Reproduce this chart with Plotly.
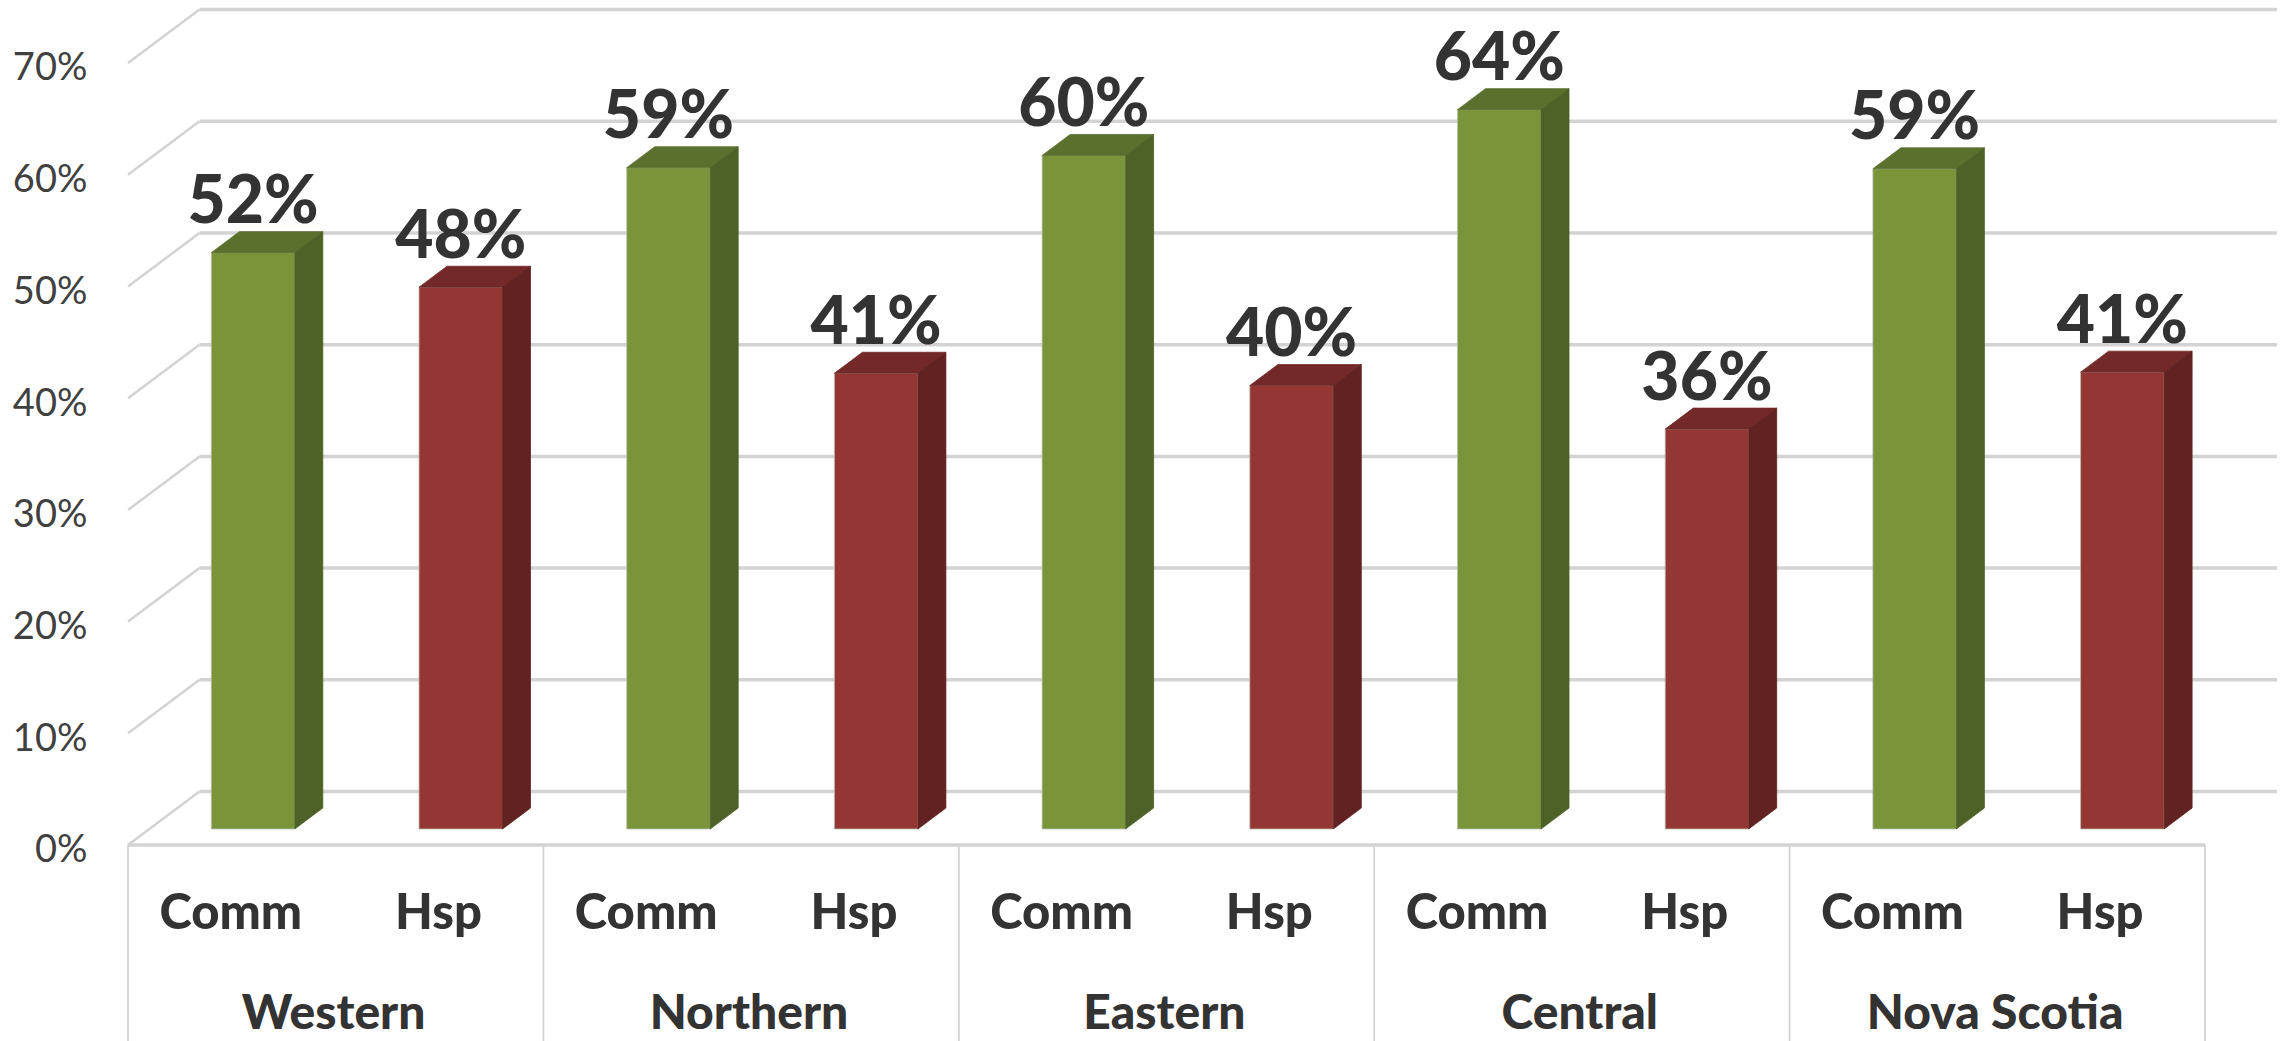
import plotly.graph_objects as go

regions = ["Western", "Northern", "Eastern", "Central", "Nova Scotia"]
kinds = ["Comm", "Hsp"]
comm_values = [51.6, 59.2, 60.3, 64.4, 59.1]
hsp_values = [48.5, 40.8, 39.7, 35.8, 40.9]
comm_labels = ["52%", "59%", "60%", "64%", "59%"]
hsp_labels = ["48%", "41%", "40%", "36%", "41%"]
grid_levels = [0, 10, 20, 30, 40, 50, 60, 70]
grid_labels = ["0%", "10%", "20%", "30%", "40%", "50%", "60%", "70%"]

W, H = 2292, 1041
SLOT_PX = 207.7
Y_PX = 11.17
X0_PX = 231.85
Y0_PX = 845
xrange_ = [-X0_PX / SLOT_PX, (W - X0_PX) / SLOT_PX]
yrange_ = [-(H - Y0_PX) / Y_PX, Y0_PX / Y_PX]


def dx(px):
    return px / SLOT_PX


def dy(px):
    return px / Y_PX


BASE = dy(16)
BAR_W = dx(83.5)
BAR_SHIFT = dx(21.2)
DEPTH_X, DEPTH_Y = dx(28), dy(21)
WALL_X, WALL_Y = dx(71.5), dy(53.5)
LEFT = -0.5
RIGHT_FRONT = 9.5
RIGHT_BACK = dx(2277 - X0_PX)
LABEL_LIFT = dy(46)
FONT = "Lato, Noto Sans, sans-serif"
INK = "#333333"
GREEN = ("#7A9539", "#5C702E", "#4E6126")
RED = ("#943634", "#722928", "#612221")
GRID = "#d3d3d3"

xs_comm = [2 * i + BAR_SHIFT for i in range(5)]
xs_hsp = [2 * i + 1 + BAR_SHIFT for i in range(5)]

fig = go.Figure()


def add_series(xs, values, labels, colors):
    front, top, side = colors
    fig.add_trace(go.Bar(
        x=xs, y=values, base=BASE, width=BAR_W,
        marker=dict(color=front, line=dict(color="#b9bfae", width=0.8)),
        showlegend=False, hoverinfo="skip",
    ))
    for x, v in zip(xs, values):
        t = v + BASE
        l, r = x - BAR_W / 2, x + BAR_W / 2
        fig.add_trace(go.Scatter(
            x=[l, r, r + DEPTH_X, l + DEPTH_X, l], y=[t, t, t + DEPTH_Y, t + DEPTH_Y, t],
            fill="toself", fillcolor=top, mode="lines",
            line=dict(color=top, width=0.8), showlegend=False, hoverinfo="skip",
        ))
        fig.add_trace(go.Scatter(
            x=[r, r + DEPTH_X, r + DEPTH_X, r, r],
            y=[BASE, BASE + DEPTH_Y, t + DEPTH_Y, t, BASE],
            fill="toself", fillcolor=side, mode="lines",
            line=dict(color=side, width=0.8), showlegend=False, hoverinfo="skip",
        ))
    fig.add_trace(go.Scatter(
        x=xs, y=[v + BASE + LABEL_LIFT for v in values], text=labels, mode="text",
        textposition="middle center",
        textfont=dict(family=FONT, size=66, color=INK, weight=900),
        showlegend=False, hoverinfo="skip",
    ))


add_series(xs_comm, comm_values, comm_labels, GREEN)
add_series(xs_hsp, hsp_values, hsp_labels, RED)

# category labels
fig.add_trace(go.Scatter(
    x=[i - 0.005 for i in range(10)], y=[dy(-72)] * 10, text=kinds * 5, mode="text",
    textposition="middle center",
    textfont=dict(family=FONT, size=49, color=INK, weight=900),
    showlegend=False, hoverinfo="skip",
))
fig.add_trace(go.Scatter(
    x=[2 * i + 0.49 for i in range(5)], y=[dy(-172)] * 5, text=regions, mode="text",
    textposition="middle center",
    textfont=dict(family=FONT, size=48, color=INK, weight=900),
    showlegend=False, hoverinfo="skip",
))

shapes = []
for g in grid_levels:
    shapes.append(dict(type="line", layer="below", xref="x", yref="y",
                       x0=LEFT, y0=g, x1=LEFT + WALL_X, y1=g + WALL_Y,
                       line=dict(color=GRID, width=2.5)))
    shapes.append(dict(type="line", layer="below", xref="x", yref="y",
                       x0=LEFT + WALL_X, y0=g + WALL_Y, x1=RIGHT_BACK, y1=g + WALL_Y,
                       line=dict(color=GRID, width=3.5)))
shapes.append(dict(type="line", layer="below", xref="x", yref="y",
                   x0=LEFT, y0=0, x1=RIGHT_FRONT, y1=0,
                   line=dict(color=GRID, width=3.5)))
for i in range(6):
    shapes.append(dict(type="line", layer="below", xref="x", yref="y",
                       x0=LEFT + 2 * i, y0=0, x1=LEFT + 2 * i, y1=yrange_[0],
                       line=dict(color=GRID, width=1.8)))

fig.update_layout(
    width=W, height=H, margin=dict(l=0, r=0, t=0, b=0),
    paper_bgcolor="white", plot_bgcolor="white", showlegend=False,
    shapes=shapes, barmode="overlay",
    xaxis=dict(range=xrange_, visible=False, domain=[0, 1]),
    yaxis=dict(
        range=yrange_, anchor="free", position=128 / W, side="left",
        tickmode="array", tickvals=grid_levels, ticktext=grid_labels,
        ticks="outside", ticklen=33, tickcolor="rgba(0,0,0,0)",
        ticklabelshift=4,
        showgrid=False, zeroline=False, showline=False,
        tickfont=dict(family=FONT, size=38, color="#404040"),
    ),
)

fig.write_html("out.html", config={"displayModeBar": False},
               post_script="document.body.style.margin='0';")
